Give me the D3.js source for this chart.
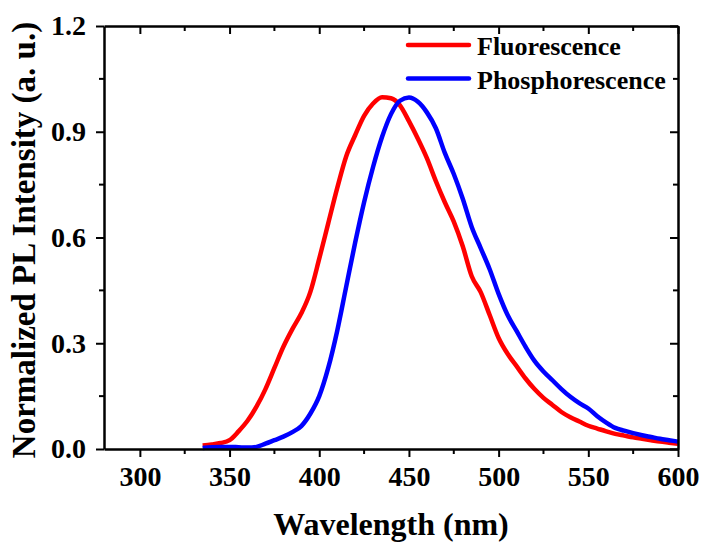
<!DOCTYPE html>
<html>
<head>
<meta charset="utf-8">
<script src="https://cdn.jsdelivr.net/npm/d3@7"></script>
<style>
  body { margin: 0; background: #fff; }
</style>
</head>
<body>
<svg id="chart" width="703" height="544"></svg>
<script>
// wavelengths (nm) sampled every 5 nm
const wavelengths = d3.range(335, 601, 5);

const fluorescence = [
  0.010, 0.013, 0.017, 0.025, 0.050, 0.080, 0.120, 0.170, 0.230, 0.290,
  0.340, 0.385, 0.445, 0.540, 0.640, 0.740, 0.830, 0.890, 0.945, 0.980,
  0.998, 0.995, 0.975, 0.930, 0.880, 0.825, 0.760, 0.700, 0.645, 0.575,
  0.490, 0.445, 0.380, 0.315, 0.270, 0.235, 0.200, 0.170, 0.145, 0.125,
  0.105, 0.090, 0.078, 0.066, 0.058, 0.050, 0.043, 0.038, 0.033, 0.029,
  0.025, 0.021, 0.018, 0.015
];

const phosphorescence = [
  0.003, 0.005, 0.006, 0.006, 0.005, 0.004, 0.006, 0.015, 0.025, 0.035,
  0.048, 0.065, 0.100, 0.150, 0.230, 0.335, 0.460, 0.585, 0.700, 0.800,
  0.885, 0.950, 0.988, 0.997, 0.985, 0.955, 0.910, 0.840, 0.780, 0.710,
  0.630, 0.570, 0.510, 0.440, 0.380, 0.335, 0.290, 0.250, 0.220, 0.195,
  0.170, 0.148, 0.130, 0.115, 0.093, 0.075, 0.060, 0.052, 0.045, 0.039,
  0.034, 0.029, 0.025, 0.021
];

const seriesNames = ["Fluorescence", "Phosphorescence"];
const seriesColors = ["#ff0000", "#0000ff"];
const xTicks = [300, 350, 400, 450, 500, 550, 600];
const yTicks = [0, 0.3, 0.6, 0.9, 1.2];

const FONT = "Liberation Serif";

const margin = { top: 26, right: 25, bottom: 95, left: 104 };
const W = 703, H = 544;
const w = W - margin.left - margin.right;
const h = H - margin.top - margin.bottom;

const svg = d3.select("#chart");
const g = svg.append("g").attr("transform", `translate(${margin.left},${margin.top})`);

const x = d3.scaleLinear().domain([280, 600]).range([0, w]);
const y = d3.scaleLinear().domain([0, 1.2]).range([h, 0]);

const xMinor = d3.range(275, 601, 25).filter(v => v > 280 && v % 50 !== 0);
const yMinor = [0.15, 0.45, 0.75, 1.05];

// curves
const line = d3.line()
  .x((d, i) => x(wavelengths[i]))
  .y(d => y(d))
  .curve(d3.curveMonotoneX);

[fluorescence, phosphorescence].forEach((vals, k) => {
  g.append("path")
    .datum(vals)
    .attr("d", line)
    .attr("fill", "none")
    .attr("stroke", seriesColors[k])
    .attr("stroke-width", 4.5)
    .attr("stroke-linejoin", "round");
});

// axes: bottom/left outward ticks, top/right inward ticks
const axStyle = sel => {
  sel.attr("font-family", FONT).attr("font-weight", "bold").attr("font-size", 28);
  sel.select(".domain").attr("stroke", "#000").attr("stroke-width", 2.5);
  sel.selectAll(".tick line").attr("stroke", "#000").attr("stroke-width", 2);
  sel.selectAll("text").attr("fill", "#000");
};

const axBottom = g.append("g").attr("transform", `translate(0,${h})`)
  .call(d3.axisBottom(x).tickValues(xTicks).tickSize(8).tickPadding(9).tickSizeOuter(0));
axStyle(axBottom);
axBottom.selectAll(".minor").data(xMinor).join("line").attr("class", "minor")
  .attr("x1", d => x(d)).attr("x2", d => x(d)).attr("y1", 0).attr("y2", 5)
  .attr("stroke", "#000").attr("stroke-width", 2);

const axLeft = g.append("g")
  .call(d3.axisLeft(y).tickValues(yTicks).tickFormat(d3.format(".1f")).tickSize(8).tickPadding(10).tickSizeOuter(0));
axStyle(axLeft);
axLeft.selectAll(".minor").data(yMinor).join("line").attr("class", "minor")
  .attr("y1", d => y(d)).attr("y2", d => y(d)).attr("x1", 0).attr("x2", -5)
  .attr("stroke", "#000").attr("stroke-width", 2);

const axTop = g.append("g")
  .call(d3.axisTop(x).tickValues(xTicks).tickSize(-8).tickFormat("").tickSizeOuter(0));
axStyle(axTop);
axTop.selectAll(".minor").data(xMinor).join("line").attr("class", "minor")
  .attr("x1", d => x(d)).attr("x2", d => x(d)).attr("y1", 0).attr("y2", 5)
  .attr("stroke", "#000").attr("stroke-width", 2);

const axRight = g.append("g").attr("transform", `translate(${w},0)`)
  .call(d3.axisRight(y).tickValues(yTicks).tickSize(-8).tickFormat("").tickSizeOuter(0));
axStyle(axRight);
axRight.selectAll(".minor").data(yMinor).join("line").attr("class", "minor")
  .attr("y1", d => y(d)).attr("y2", d => y(d)).attr("x1", 0).attr("x2", -5)
  .attr("stroke", "#000").attr("stroke-width", 2);

const boldText = sel => sel.attr("font-family", FONT).attr("font-weight", "bold").attr("fill", "#000");

// axis titles
svg.append("text")
  .attr("x", 391).attr("y", 535)
  .attr("text-anchor", "middle").attr("font-size", 32)
  .call(boldText)
  .text("Wavelength (nm)");

svg.append("text")
  .attr("transform", "translate(35,240) rotate(-90)")
  .attr("text-anchor", "middle").attr("font-size", 33)
  .call(boldText)
  .text("Normalized PL Intensity (a. u.)");

// legend
const legend = g.append("g").attr("transform", `translate(${408 - margin.left},${45 - margin.top})`);
seriesNames.forEach((name, i) => {
  const row = legend.append("g").attr("transform", `translate(0,${i * 33.5})`);
  row.append("line").attr("x1", 0).attr("x2", 61).attr("y1", 0).attr("y2", 0)
    .attr("stroke", seriesColors[i]).attr("stroke-width", 4.5).attr("stroke-linecap", "round");
  row.append("text").attr("x", 69).attr("y", 10).attr("font-size", 26).call(boldText).text(name);
});
</script>
</body>
</html>
